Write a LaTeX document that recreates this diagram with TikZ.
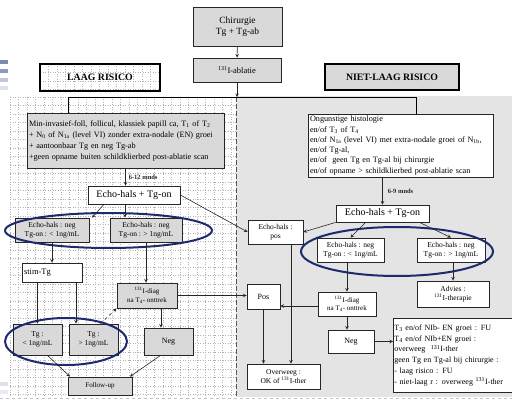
\documentclass[tikz,border=0pt]{standalone}
\usepackage{fontspec}
\setmainfont{Liberation Serif}
\usetikzlibrary{calc}
\definecolor{boxgrey}{HTML}{D9D9D9}
\definecolor{bggrey}{HTML}{E4E4E4}
\definecolor{ovalblue}{HTML}{1C2A6E}
\definecolor{slideblue}{HTML}{8A9AC0}
\tikzset{
  box/.style={draw=black!85, line width=0.8pt, align=center, inner sep=1pt,
    font=\fontsize{7.5}{8.5}\selectfont},
  gbox/.style={box, fill=boxgrey},
  wbox/.style={box, fill=white},
  riskbox/.style={draw=black, line width=1.8pt, inner sep=0pt,
    font=\fontsize{9.8}{11}\selectfont\bfseries},
  oval/.style={draw=ovalblue, line width=2pt},
  lnk/.style={->, >=stealth, line width=0.6pt, black!85},
  gridln/.style={gray!60, dotted, line width=0.5pt},
  mnds/.style={font=\fontsize{6.5}{7}\selectfont\bfseries, inner sep=1pt}
}
\newcommand{\iod}{\textsuperscript{131}I}
\begin{document}
\begin{tikzpicture}[x=1pt,y=-1pt]
\useasboundingbox (0,0) rectangle (512,401);
% backgrounds
\fill[bggrey] (236,96) rectangle (512,397);
\foreach \gx in {10,18.5,...,236} \draw[gridln] (\gx,97) -- (\gx,397);
\foreach \gy in {97,105.5,...,397} \draw[gridln] (10,\gy) -- (236,\gy);
\begin{scope}
\clip (40,64) rectangle (160,91);
\foreach \gx in {40,48.5,...,160} \draw[gridln] (\gx,64) -- (\gx,91);
\foreach \gy in {64,72.5,...,91} \draw[gridln] (40,\gy) -- (160,\gy);
\end{scope}
\draw[gray!70!black, dashed, line width=0.9pt, dash pattern=on 5pt off 2pt] (236,97) -- (236,397);
% slide decoration
\fill[slideblue!90!black] (0,60) rectangle (8,64);
\fill[slideblue] (0,69) rectangle (8,73);
\fill[slideblue!55] (0,78) rectangle (8,82);
\fill[slideblue!30] (0,86) rectangle (8,90);
\fill[slideblue!30] (0,382) rectangle (8,386);
\fill[slideblue!20] (0,390) rectangle (8,394);
\draw[slideblue!60, dashed, line width=1pt] (0,398.5) -- (512,398.5);

% top
\node[gbox, minimum width=89pt, minimum height=39pt, font=\fontsize{9.5}{11}\selectfont] (chir) at (237.5,26.5) {Chirurgie\\Tg + Tg-ab};
\node[gbox, minimum width=88pt, minimum height=24pt, font=\fontsize{8.5}{10}\selectfont] (abl) at (237,70) {\iod-ablatie};
\node[riskbox, minimum width=120pt, minimum height=27pt] (laag) at (100,77.5) {LAAG RISICO};
\node[riskbox, fill=boxgrey, minimum width=134pt, minimum height=26pt] (niet) at (392,77) {NIET-LAAG RISICO};
\coordinate (split) at (237,97);
\coordinate (barL) at (68,97);
\coordinate (barR) at (416,97);

% laag risico
\node[gbox, text width=193pt, align=left, minimum height=55pt, inner sep=2pt,
  font=\fontsize{8.2}{11}\selectfont] (minv) at (125.5,140.5)
  {Min-invasief-foll, follicul, klassiek papill ca, T\textsubscript{1} of T\textsubscript{2}\\
   + N\textsubscript{0} of N\textsubscript{1a} (level VI) zonder extra-nodale (EN) groei\\
   + aantoonbaar Tg en neg Tg-ab\\
   +geen opname buiten schildklierbed post-ablatie scan};
\node[wbox, minimum width=92pt, minimum height=18pt, font=\fontsize{10}{11}\selectfont] (echoL) at (134,195) {Echo-hals + Tg-on};
\node[gbox, minimum width=74pt, minimum height=24pt] (negL1) at (52,230) {Echo-hals : neg\\Tg-on : < 1ng/mL};
\node[gbox, minimum width=72pt, minimum height=24pt] (negL2) at (146,230) {Echo-hals : neg\\Tg-on : > 1ng/mL};
\draw[oval] (108.5,230.5) ellipse [x radius=103.5pt, y radius=17.5pt];
\node[wbox, minimum width=60pt, minimum height=19pt, align=left, text width=56pt, font=\fontsize{8.5}{10}\selectfont] (stim) at (52,272.5) {stim-Tg};
\node[gbox, minimum width=60pt, minimum height=25pt, font=\fontsize{7}{8.5}\selectfont] (diagL) at (147,295.5) {\iod-diag\\na T\textsubscript{4}- onttrek};
\node[gbox, minimum width=49pt, minimum height=31pt] (tg1) at (37.5,339.5) {Tg :\\< 1ng/mL};
\node[gbox, minimum width=49pt, minimum height=31pt] (tg2) at (93.5,339.5) {Tg :\\> 1ng/mL};
\draw[oval] (66,341.5) ellipse [x radius=61pt, y radius=23.5pt];
\node[gbox, minimum width=49pt, minimum height=27pt, font=\fontsize{8}{9}\selectfont] (negL3) at (168.5,341.5) {Neg};
\node[gbox, minimum width=64pt, minimum height=18pt, font=\fontsize{7}{8}\selectfont] (fu) at (100,386) {Follow-up};

% midden
\node[wbox, minimum width=55pt, minimum height=24pt] (pos1) at (275.5,232) {Echo-hals :\\pos};
\node[wbox, minimum width=33pt, minimum height=25pt, font=\fontsize{8}{9}\selectfont] (pos2) at (263.5,296.5) {Pos};
\node[wbox, minimum width=73pt, minimum height=25pt] (overw) at (283.5,376.5) {Overweeg :\\OK of \iod-ther};

% niet-laag risico
\node[wbox, text width=181pt, align=left, minimum height=63pt, inner sep=2pt,
  font=\fontsize{8.2}{10.3}\selectfont] (ong) at (400.5,145.5)
  {Ongunstige histologie\\
   en/of T\textsubscript{3} of T\textsubscript{4}\\
   en/of N\textsubscript{1a} (level VI) met extra-nodale groei of N\textsubscript{1b},\\
   en/of Tg-al,\\
   en/of \ geen Tg en Tg-al bij chirurgie\\
   en/of opname > schildklierbed post-ablatie scan};
\node[wbox, minimum width=93pt, minimum height=17pt, font=\fontsize{10}{11}\selectfont] (echoR) at (382.5,213.5) {Echo-hals + Tg-on};
\node[wbox, minimum width=67pt, minimum height=24pt] (negR1) at (350.5,250) {Echo-hals : neg\\Tg-on : < 1ng/mL};
\node[wbox, minimum width=68pt, minimum height=24pt] (negR2) at (451,250) {Echo-hals : neg\\Tg-on : > 1ng/mL};
\draw[oval] (397,251.5) ellipse [x radius=96pt, y radius=24.5pt];
\node[wbox, minimum width=58pt, minimum height=24pt, font=\fontsize{7}{8.5}\selectfont] (diagR) at (347,304) {\iod-diag\\na T\textsubscript{4}- onttrek};
\node[wbox, minimum width=72pt, minimum height=26pt] (adv) at (453,294) {Advies :\\\iod-therapie};
\node[wbox, minimum width=46pt, minimum height=23pt, font=\fontsize{8}{9}\selectfont] (negR3) at (351,341.5) {Neg};
\node[wbox, text width=117pt, align=left, minimum height=74pt, inner sep=1pt, anchor=north west,
  font=\fontsize{8}{10.8}\selectfont] (big) at (393,318)
  {T\textsubscript{3} en/of NIb- EN groei : FU\\
   T\textsubscript{4} en/of NIb+EN groei :\\
   overweeg \ \iod-ther\\
   geen Tg en Tg-al bij chirurgie :\\
   - laag risico : FU\\
   - niet-laag r : overweeg \iod-ther};

% verbindingen
\draw[lnk] (chir) -- (abl);
\draw[lnk] (abl) -- (split);
\draw[line width=0.6pt] (barL) -- (barR);
\draw[line width=0.6pt] (barL) -- (barL |- minv.north);
\draw[line width=0.6pt] (barR) -- (barR |- ong.north);
\draw[lnk] (minv.south) -- (minv.south |- echoL.north) node[mnds, midway, right, xshift=2pt] {6-12 mnds};
\draw[lnk] ([xshift=-30pt]echoL.south) -- ([xshift=40pt]negL1.north);
\draw[lnk] ([xshift=-9pt]echoL.south) -- ([xshift=-9pt]echoL.south |- negL2.north);
\draw[lnk] (echoL.east) -- (pos1.west);
\draw[lnk] (negL1) -- (stim);
\draw[lnk] (stim.south -| tg1.north) -- (tg1.north);
\draw[lnk] ([xshift=24pt]stim.south) -- ([xshift=24pt]stim.south |- tg2.north);
\draw[lnk] (negL2.south) -- (negL2.south |- diagL.north);
\draw[lnk] ([xshift=14pt]diagL.south) -- ([xshift=14pt]diagL.south |- negL3.north);
\draw[lnk] (diagL.east) -- (diagL.east -| pos2.west);
\draw[lnk, dashed] ([xshift=7pt]tg2.north) -- (diagL.south west);
\draw[lnk] ([xshift=10pt]tg1.south) -- ([xshift=-30pt]fu.north);
\draw[lnk] ([xshift=-8pt]negL3.south) -- ([xshift=30pt]fu.north);
\draw[lnk] (echoR.north |- ong.south) -- (echoR.north) node[mnds, midway, right, xshift=4pt] {6-9 mnds};
\draw[lnk] (echoR.south west) -- (pos1.east);
\draw[lnk] ([xshift=-17pt]echoR.south) -- (negR1.north);
\draw[lnk] ([xshift=37pt]echoR.south) -- (negR2.north);
\draw[lnk] (negR1.south -| diagR.north) -- (diagR.north);
\draw[lnk] ([xshift=2pt]negR2.south) -- ([xshift=2pt]negR2.south |- adv.north);
\draw[lnk] (diagR.south) -- (diagR.south |- negR3.north);
\draw[lnk] ([yshift=-2pt]diagR.west) -- ([yshift=-2pt]diagR.west -| pos2.east);
\draw[lnk] (negR3.east) -- (negR3.east -| big.west);
\draw[lnk] ([xshift=15.5pt]pos1.south) -- ([xshift=15.5pt]pos1.south |- overw.north);
\draw[lnk] (pos2.south) -- (pos2.south |- overw.north);
\end{tikzpicture}
\end{document}
